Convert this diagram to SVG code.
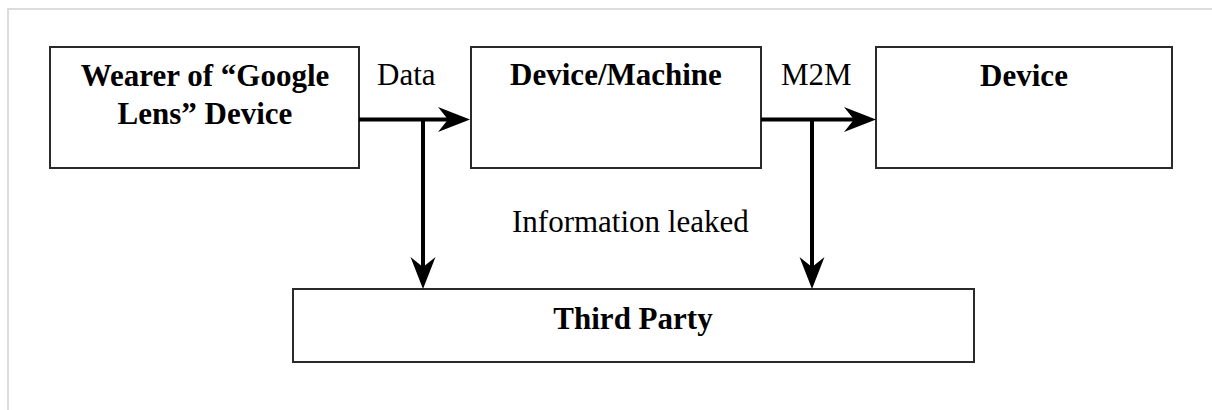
<svg xmlns="http://www.w3.org/2000/svg" width="1212" height="410" viewBox="0 0 1212 410">
  <style>
    .box { fill: #fff; stroke: #2a2a2a; stroke-width: 2; }
    .bold { font-family: "Liberation Serif", "Times New Roman", serif; font-weight: bold; font-size: 31px; fill: #000; text-anchor: middle; }
    .lbl { font-family: "Liberation Serif", "Times New Roman", serif; font-size: 31px; fill: #000; }
    .conn { stroke: #000; stroke-width: 4; fill: none; }
    .frame { stroke: #dcdcdc; stroke-width: 2; fill: none; }
  </style>
  <defs>
    <marker id="ah" markerUnits="userSpaceOnUse" markerWidth="46" markerHeight="30" viewBox="-34 -15 46 30" refX="0" refY="0" orient="auto">
      <path d="M10,0 L-22,-12.5 L-12,0 L-22,12.5 Z" fill="#000"/>
    </marker>
  </defs>
  <rect width="1212" height="410" fill="#fff"/>
  <path class="frame" d="M8,410 V9 H1212"/>

  <g id="wearer">
    <rect class="box" x="50" y="47" width="309" height="121"/>
    <text class="bold" x="205" y="86">Wearer of “Google</text>
    <text class="bold" x="205" y="124">Lens” Device</text>
  </g>
  <g id="device-machine">
    <rect class="box" x="471" y="47" width="290" height="121"/>
    <text class="bold" x="616" y="85">Device/Machine</text>
  </g>
  <g id="device">
    <rect class="box" x="876" y="47" width="296" height="121"/>
    <text class="bold" x="1024" y="86">Device</text>
  </g>
  <g id="third-party">
    <rect class="box" x="293" y="289" width="681" height="73"/>
    <text class="bold" x="633" y="329">Third Party</text>
  </g>

  <g id="connectors">
    <path class="conn" d="M359,119.5 H460" marker-end="url(#ah)"/>
    <path class="conn" d="M761,119.5 H866" marker-end="url(#ah)"/>
    <path class="conn" d="M423,119.5 V279" marker-end="url(#ah)"/>
    <path class="conn" d="M812,119.5 V279" marker-end="url(#ah)"/>
    <text class="lbl" x="377" y="85">Data</text>
    <text class="lbl" x="781" y="85">M2M</text>
    <text class="lbl" x="512" y="232">Information leaked</text>
  </g>
</svg>
